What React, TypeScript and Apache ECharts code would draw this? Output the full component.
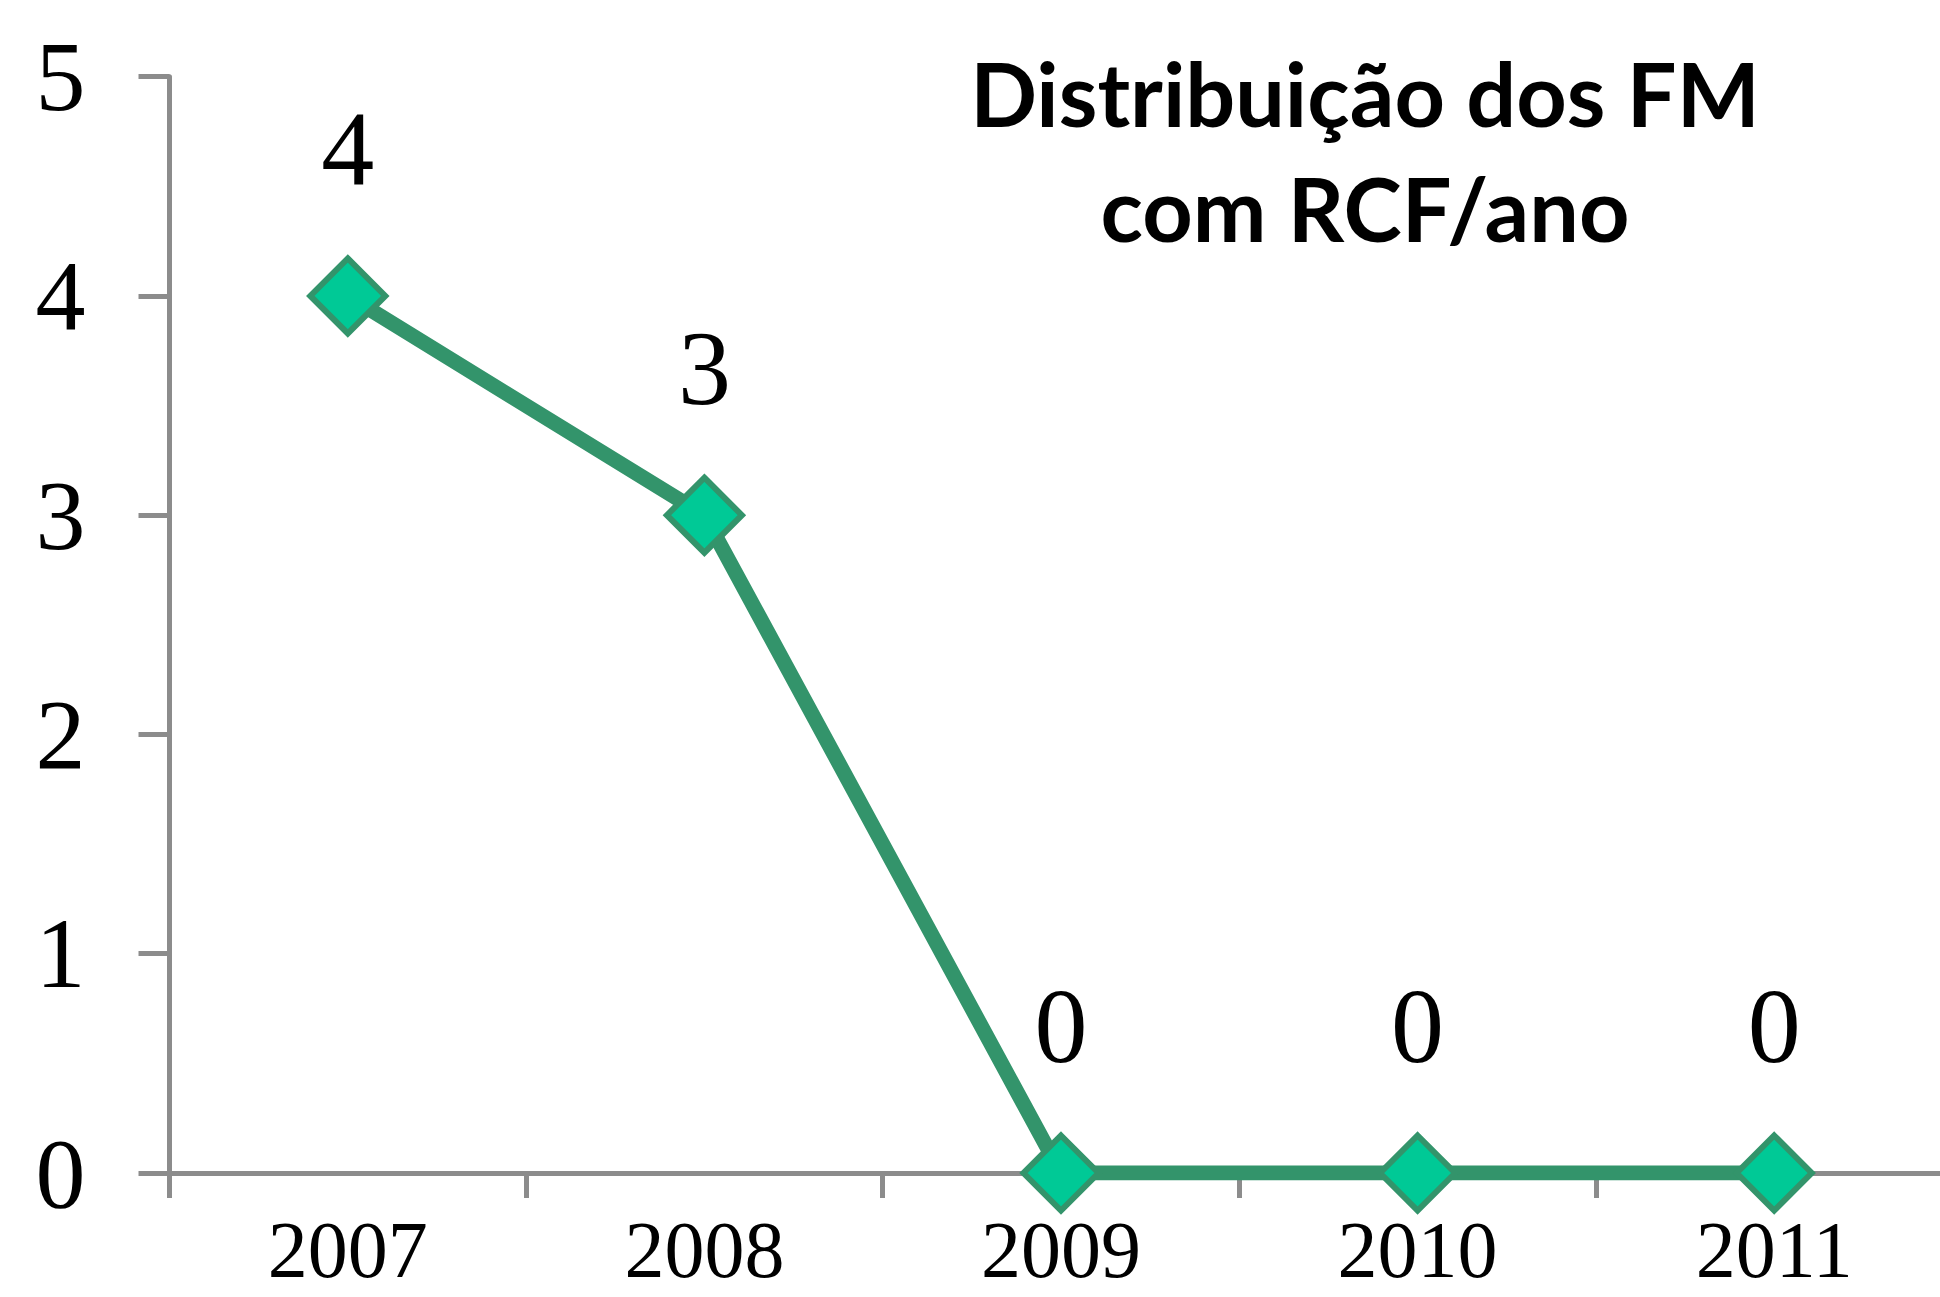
import React, { useEffect, useRef } from "react";
import * as echarts from "echarts";

const categories = ["2007", "2008", "2009", "2010", "2011"];
const values = [4, 3, 0, 0, 0];
const yMin = 0;
const yMax = 5;
const yInterval = 1;
const titleText = "Distribuição dos FM\ncom RCF/ano";

const AXIS_GRAY = "#8C8C8C";
const LINE_GREEN = "#33946B";
const FILL_GREEN = "#00C996";
const SERIF = "'Liberation Serif', 'Times New Roman', serif";

export default function App() {
  const ref = useRef<HTMLDivElement>(null);
  useEffect(() => {
    if (!ref.current) return;
    const chart = echarts.init(ref.current, null, { renderer: "svg" });
    chart.setOption({
      animation: false,
      backgroundColor: "#ffffff",
      title: {
        text: titleText,
        left: 1365,
        top: 35,
        padding: 0,
        textAlign: "center",
        textStyle: {
          fontFamily: "Lato, 'Liberation Sans', sans-serif",
          fontWeight: "bold",
          fontSize: 88,
          lineHeight: 115,
          color: "#000",
        },
      },
      grid: { left: 169.5, top: 76.7, right: 27.5, bottom: 124, containLabel: false },
      xAxis: {
        type: "category",
        data: categories,
        boundaryGap: true,
        axisLine: { show: true, lineStyle: { color: AXIS_GRAY, width: 5 } },
        axisTick: { show: true, length: 25, lineStyle: { color: AXIS_GRAY, width: 5 } },
        axisLabel: { margin: 49, fontSize: 80, fontFamily: SERIF, color: "#000", lineHeight: 56 },
        splitLine: { show: false },
      },
      yAxis: {
        type: "value",
        min: yMin,
        max: yMax,
        interval: yInterval,
        axisLine: { show: true, lineStyle: { color: AXIS_GRAY, width: 5 } },
        axisTick: { show: true, length: 31, lineStyle: { color: AXIS_GRAY, width: 5 } },
        axisLabel: { margin: 84, fontSize: 100, fontFamily: SERIF, color: "#000" },
        splitLine: { show: false },
      },
      series: [
        {
          type: "line",
          data: values,
          symbol: "diamond",
          symbolSize: 75,
          lineStyle: { color: LINE_GREEN, width: 15 },
          itemStyle: { color: FILL_GREEN, borderColor: LINE_GREEN, borderWidth: 6 },
          label: {
            show: true,
            position: "inside",
            offset: [0, -147],
            fontSize: 106,
            lineHeight: 106,
            fontFamily: SERIF,
            color: "#000",
          },
        },
      ],
    });
    return () => chart.dispose();
  }, []);
  return (
    <div
      style={{
        position: "fixed",
        left: 0,
        top: 0,
        width: 1940,
        height: 1297,
        overflow: "hidden",
        background: "#fff",
      }}
    >
      <div ref={ref} style={{ width: 1980, height: 1297 }} />
    </div>
  );
}
